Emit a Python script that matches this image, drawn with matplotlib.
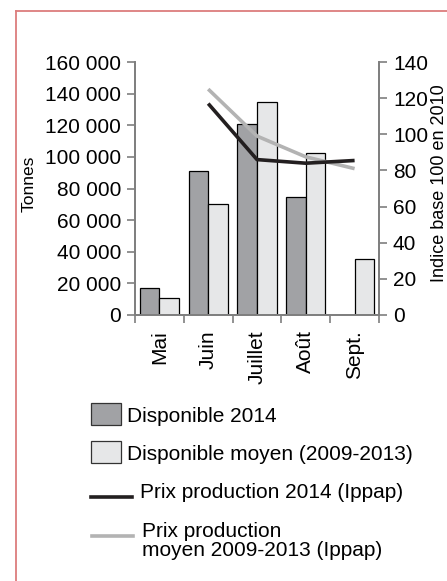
import numpy as np
import matplotlib
matplotlib.use('Agg')
import matplotlib.pyplot as plt
from matplotlib.patches import Rectangle
from matplotlib.lines import Line2D
from matplotlib.ticker import FuncFormatter

plt.rcParams['font.family'] = ['Liberation Sans', 'DejaVu Sans']

# data
months = ['Mai', 'Juin', 'Juillet', 'Août', 'Sept.']
dispo_2014 = [17000, 91000, 121000, 74500, 0]
dispo_moyen = [10500, 70500, 135000, 102500, 35500]
prix_2014 = [np.nan, 117, 86, 84, 85.5]
prix_moyen = [np.nan, 125, 99, 87.5, 81]

dark = '#a1a2a5'
light = '#e6e7e8'
spine_col = '#7f7f7f'

W, H = 447, 581
fig = plt.figure(figsize=(W / 100, H / 100), dpi=100)
ax = fig.add_axes([135 / W, 1 - 315 / H, (379 - 135) / W, (315 - 62) / H])
ax2 = ax.twinx()

x = np.arange(len(months))
bw = 0.4
ax.bar(x - bw / 2, dispo_2014, bw, color=dark, edgecolor='black', linewidth=0.9, zorder=2)
ax.bar(x + bw / 2, dispo_moyen, bw, color=light, edgecolor='black', linewidth=0.9, zorder=2)

ax2.plot(x, prix_moyen, color='#b3b3b3', linewidth=2.6, solid_capstyle='butt')
ax2.plot(x, prix_2014, color='#231f20', linewidth=2.6, solid_capstyle='butt')

ax.set_xlim(-0.5, len(months) - 0.5)
ax.set_ylim(0, 160000)
ax2.set_ylim(0, 140)

ax.set_yticks(np.arange(0, 160001, 20000))
ax.yaxis.set_major_formatter(FuncFormatter(lambda v, p: f'{int(v):,}'.replace(',', ' ')))
ax2.set_yticks(np.arange(0, 141, 20))

ax.set_xticks(x)
ax.set_xticklabels(months, rotation=90, va='top', ha='center')
ax.set_xticks(np.arange(-0.5, len(months)), minor=True)
ax.tick_params(axis='x', which='major', length=0, pad=11, labelsize=15)
ax.tick_params(axis='x', which='minor', length=6, width=1.2, color=spine_col, direction='out')
ax.tick_params(axis='y', length=6, width=1.2, color=spine_col, labelsize=15, pad=4)
ax2.tick_params(axis='y', length=6, width=1.2, color=spine_col, labelsize=15, pad=4)

for a in (ax, ax2):
    a.spines['top'].set_visible(False)
    for s in ('left', 'right', 'bottom'):
        a.spines[s].set_color(spine_col)
        a.spines[s].set_linewidth(1.3)

ax.set_ylabel('Tonnes', fontsize=12.5)
ax.yaxis.set_label_coords((37 - 135) / (379 - 135), 0.52)
ax2.set_ylabel('Indice base 100 en 2010', fontsize=13, rotation=90)
ax2.yaxis.set_label_coords((431 - 135) / (379 - 135), 0.52)

# red frame (open on right and bottom)
fig.add_artist(Line2D([16 / W, 16 / W], [0, 1 - 11 / H], color='#dc7d7d', linewidth=1.3))
fig.add_artist(Line2D([16 / W, 1], [1 - 11 / H, 1 - 11 / H], color='#dc7d7d', linewidth=1.3))

# legend
def patch(y0, y1, col):
    fig.add_artist(Rectangle((91 / W, 1 - y1 / H), 30 / W, (y1 - y0) / H,
                             facecolor=col, edgecolor='#333333', linewidth=0.9))

patch(403, 425, dark)
fig.text(127 / W, 1 - 416 / H, 'Disponible 2014', fontsize=15, va='center')
patch(441, 463, light)
fig.text(127 / W, 1 - 454 / H, 'Disponible moyen (2009-2013)', fontsize=15, va='center')
fig.add_artist(Line2D([91 / W, 132 / W], [1 - 497 / H] * 2, color='#231f20', linewidth=2.6))
fig.text(140 / W, 1 - 492 / H, 'Prix production 2014 (Ippap)', fontsize=15, va='center')
fig.add_artist(Line2D([92 / W, 133 / W], [1 - 536 / H] * 2, color='#b3b3b3', linewidth=2.6))
fig.text(142 / W, 1 - 541 / H, 'Prix production\nmoyen 2009-2013 (Ippap)', fontsize=15,
         va='center', linespacing=0.95)

fig.savefig('out.png', dpi=100)
